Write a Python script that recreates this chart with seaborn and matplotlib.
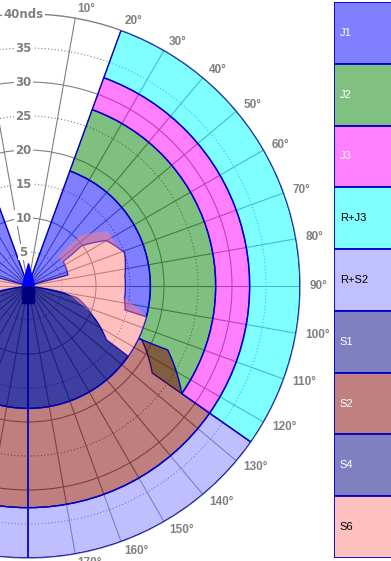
import numpy as np
import matplotlib
matplotlib.use("Agg")
import matplotlib.pyplot as plt
from matplotlib.markers import MarkerStyle
from matplotlib.transforms import Affine2D
import matplotlib.colors as mcolors
import seaborn as sns

# sails in legend order
sails = ['J1', 'J2', 'J3', 'R+J3', 'R+S2', 'S1', 'S2', 'S4', 'S6']
sail_colors = ['#0000ff', '#008000', '#ff00ff', '#00ffff', '#8080ff',
               '#000080', '#800000', '#000080', '#ff8080']
label_colors = ['white', 'white', 'white', 'black', 'black',
                'white', 'white', 'white', 'black']

# plain bands: TWA range (deg) and TWS range (knots)
band_sails = ['J3', 'R+J3', 'R+S2']
band_twa_from = [20, 20, 125]
band_twa_to = [125, 125, 180]
band_tws_from = [27.6, 32.6, 32.6]
band_tws_to = [32.6, 40, 40]

# irregular zones, outline as TWA (deg) / TWS (knots)
j1_twa = [20, 20, 104.6, 103.9, 97.3, 84, 71, 59.9, 53.1, 55.2, 74.6, 74.6]
j1_tws = [0, 18, 18, 14.7, 14.3, 14.3, 15, 13.3, 9.8, 6.3, 6.1, 0]
j2_twa = [115.3, 20, 20, 125, 125, 115.3]
j2_tws = [18, 18, 27.6, 27.6, 22.3, 18.5]
s1_twa = [97, 103.5, 115.2, 124.4, 125, 180, 180]
s1_tws = [0, 7.4, 10.6, 14, 18, 18, 0]
s2_twa = [115.3, 114.6, 125, 125, 180, 180, 115.3]
s2_tws = [18.5, 22.6, 27.6, 32.6, 32.6, 18, 18]
s4_twa = [92, 99.2, 108.4, 116.3, 124.4, 125, 180, 180]
s4_tws = [0, 5.3, 8.1, 11.3, 14, 18, 18, 0]
s6_twa = [74.6, 74.6, 45.7, 46, 55.8, 65, 71, 84, 97.3, 104.6, 125,
          124.4, 116.3, 108.4, 99.2, 92]
s6_tws = [0, 6.1, 6.2, 10.6, 14.2, 14.3, 15, 14.3, 14.3, 18, 18,
          14, 11.3, 8.1, 5.3, 0]

zones = {
    'J1': (j1_twa, j1_tws, True),
    'J2': (j2_twa, j2_tws, True),
    'S1': (s1_twa, s1_tws, True),
    'S2': (s2_twa, s2_tws, True),
    'S4': (s4_twa, s4_tws, False),
    'S6': (s6_twa, s6_tws, False),
}

# axis ticks / labels
r_ticks = [5, 10, 15, 20, 25, 30, 35, 40]
r_labels = ['5', '10', '15', '20', '25', '30', '35', '40nds']
twa_labels = [10, 20, 30, 40, 50, 60, 70, 80, 90, 100, 110, 120, 130, 140, 150, 160, 170]

# boat symbol: bow and stern
boat_twa = [0, 180]
boat_r = [1.75, 1.25]

EDGE = '#0000c8'
GREY = '#808080'

sns.set_style('white')

W, H = 391, 561
fig = plt.figure(figsize=(W / 100, H / 100), dpi=100)
fig.patch.set_facecolor('white')

# polar plot: centre at (28, 286) px, r=40 -> 272 px
cx, cy, R = 28, 286, 272
ax = fig.add_axes([(cx - R) / W, (H - cy - R) / H, 2 * R / W, 2 * R / H],
                  projection='polar')
ax.set_theta_zero_location('N')
ax.set_theta_direction(-1)
ax.set_ylim(0, 40)
ax.set_axisbelow(True)
ax.set_facecolor('white')

spokes = [a for a in range(0, 360, 10) if a not in (0, 180)]
ax.set_thetagrids(spokes, labels=[''] * len(spokes))
ax.set_rgrids(r_ticks[:-1], labels=[''] * (len(r_ticks) - 1))
ax.grid(True, color=GREY, linewidth=0.8)
for r, gl in zip(r_ticks[:-1], ax.yaxis.get_gridlines()):
    gl.set_linestyle('-' if r % 10 == 0 else (0, (1, 2)))
ax.spines['polar'].set_color(GREY)
ax.spines['polar'].set_linewidth(1.0)
ax.spines['polar'].set_zorder(2)
ax.tick_params(length=0)

for i, name in enumerate(sails):
    color = mcolors.to_rgba(sail_colors[i], 0.5)
    z = 3 + i * 0.1
    if name in band_sails:
        k = band_sails.index(name)
        a0, a1 = band_twa_from[k], band_twa_to[k]
        r0, r1 = band_tws_from[k], band_tws_to[k]
        for sign in (1, -1):
            ax.bar(np.radians(sign * (a0 + a1) / 2), r1 - r0,
                   width=np.radians(a1 - a0), bottom=r0, color=color,
                   edgecolor=EDGE, linewidth=1.0, zorder=z)
    else:
        twa, tws, edged = zones[name]
        for sign in (1, -1):
            polys = ax.fill(np.radians(np.array(twa) * sign), tws,
                            facecolor=color,
                            edgecolor=EDGE if edged else 'none',
                            linewidth=1.0, zorder=z)
            for p in polys:
                p.get_path()._interpolation_steps = 100

# boat: narrow triangle bow, rectangular stern
bow = MarkerStyle('^', transform=Affine2D().scale(0.55, 1.0))
stern = MarkerStyle('s', transform=Affine2D().scale(0.76, 1.0))
ax.plot([np.radians(boat_twa[0])], [boat_r[0]], linestyle='none', marker=bow,
        markersize=16, color='#0000ff', zorder=20, clip_on=False)
ax.plot([np.radians(boat_twa[1])], [boat_r[1]], linestyle='none', marker=stern,
        markersize=12.2, color='#000080', zorder=20, clip_on=False)

# radial labels
for r, lbl in zip(r_ticks, r_labels):
    ax.annotate(lbl, xy=(0, r), xytext=(-3.3, 0), textcoords='offset points',
                ha='center', va='center', fontsize=8.5, fontweight='bold',
                color=GREY, family='DejaVu Sans', zorder=10,
                bbox=dict(boxstyle='square,pad=0.1', fc='white', ec='none'))

# angle labels
for a in twa_labels:
    ax.text(np.radians(a), 41.4, f'{a}°', ha='left', va='center',
            fontsize=8.5, fontweight='bold', color=GREY,
            family='Liberation Sans', zorder=10)

# legend column
lax = fig.add_axes([334 / W, 3 / H, 58 / W, 556 / H])
legend_colors = [tuple(0.5 * np.array(mcolors.to_rgb(c)) + 0.5) for c in sail_colors]
sns.barplot(x=[1] * len(sails), y=sails, hue=sails, palette=legend_colors,
            legend=False, orient='h', width=1.0, saturation=1,
            edgecolor=EDGE, linewidth=1.3, ax=lax)
lax.set_xlim(0, 1)
lax.set_ylim(len(sails) - 0.5, -0.5)
lax.axis('off')
for i, (name, tc) in enumerate(zip(sails, label_colors)):
    lax.text(0.1, i, name, ha='left', va='center', fontsize=8,
             color=tc, family='Liberation Sans')

fig.savefig('out.png', dpi=100)
